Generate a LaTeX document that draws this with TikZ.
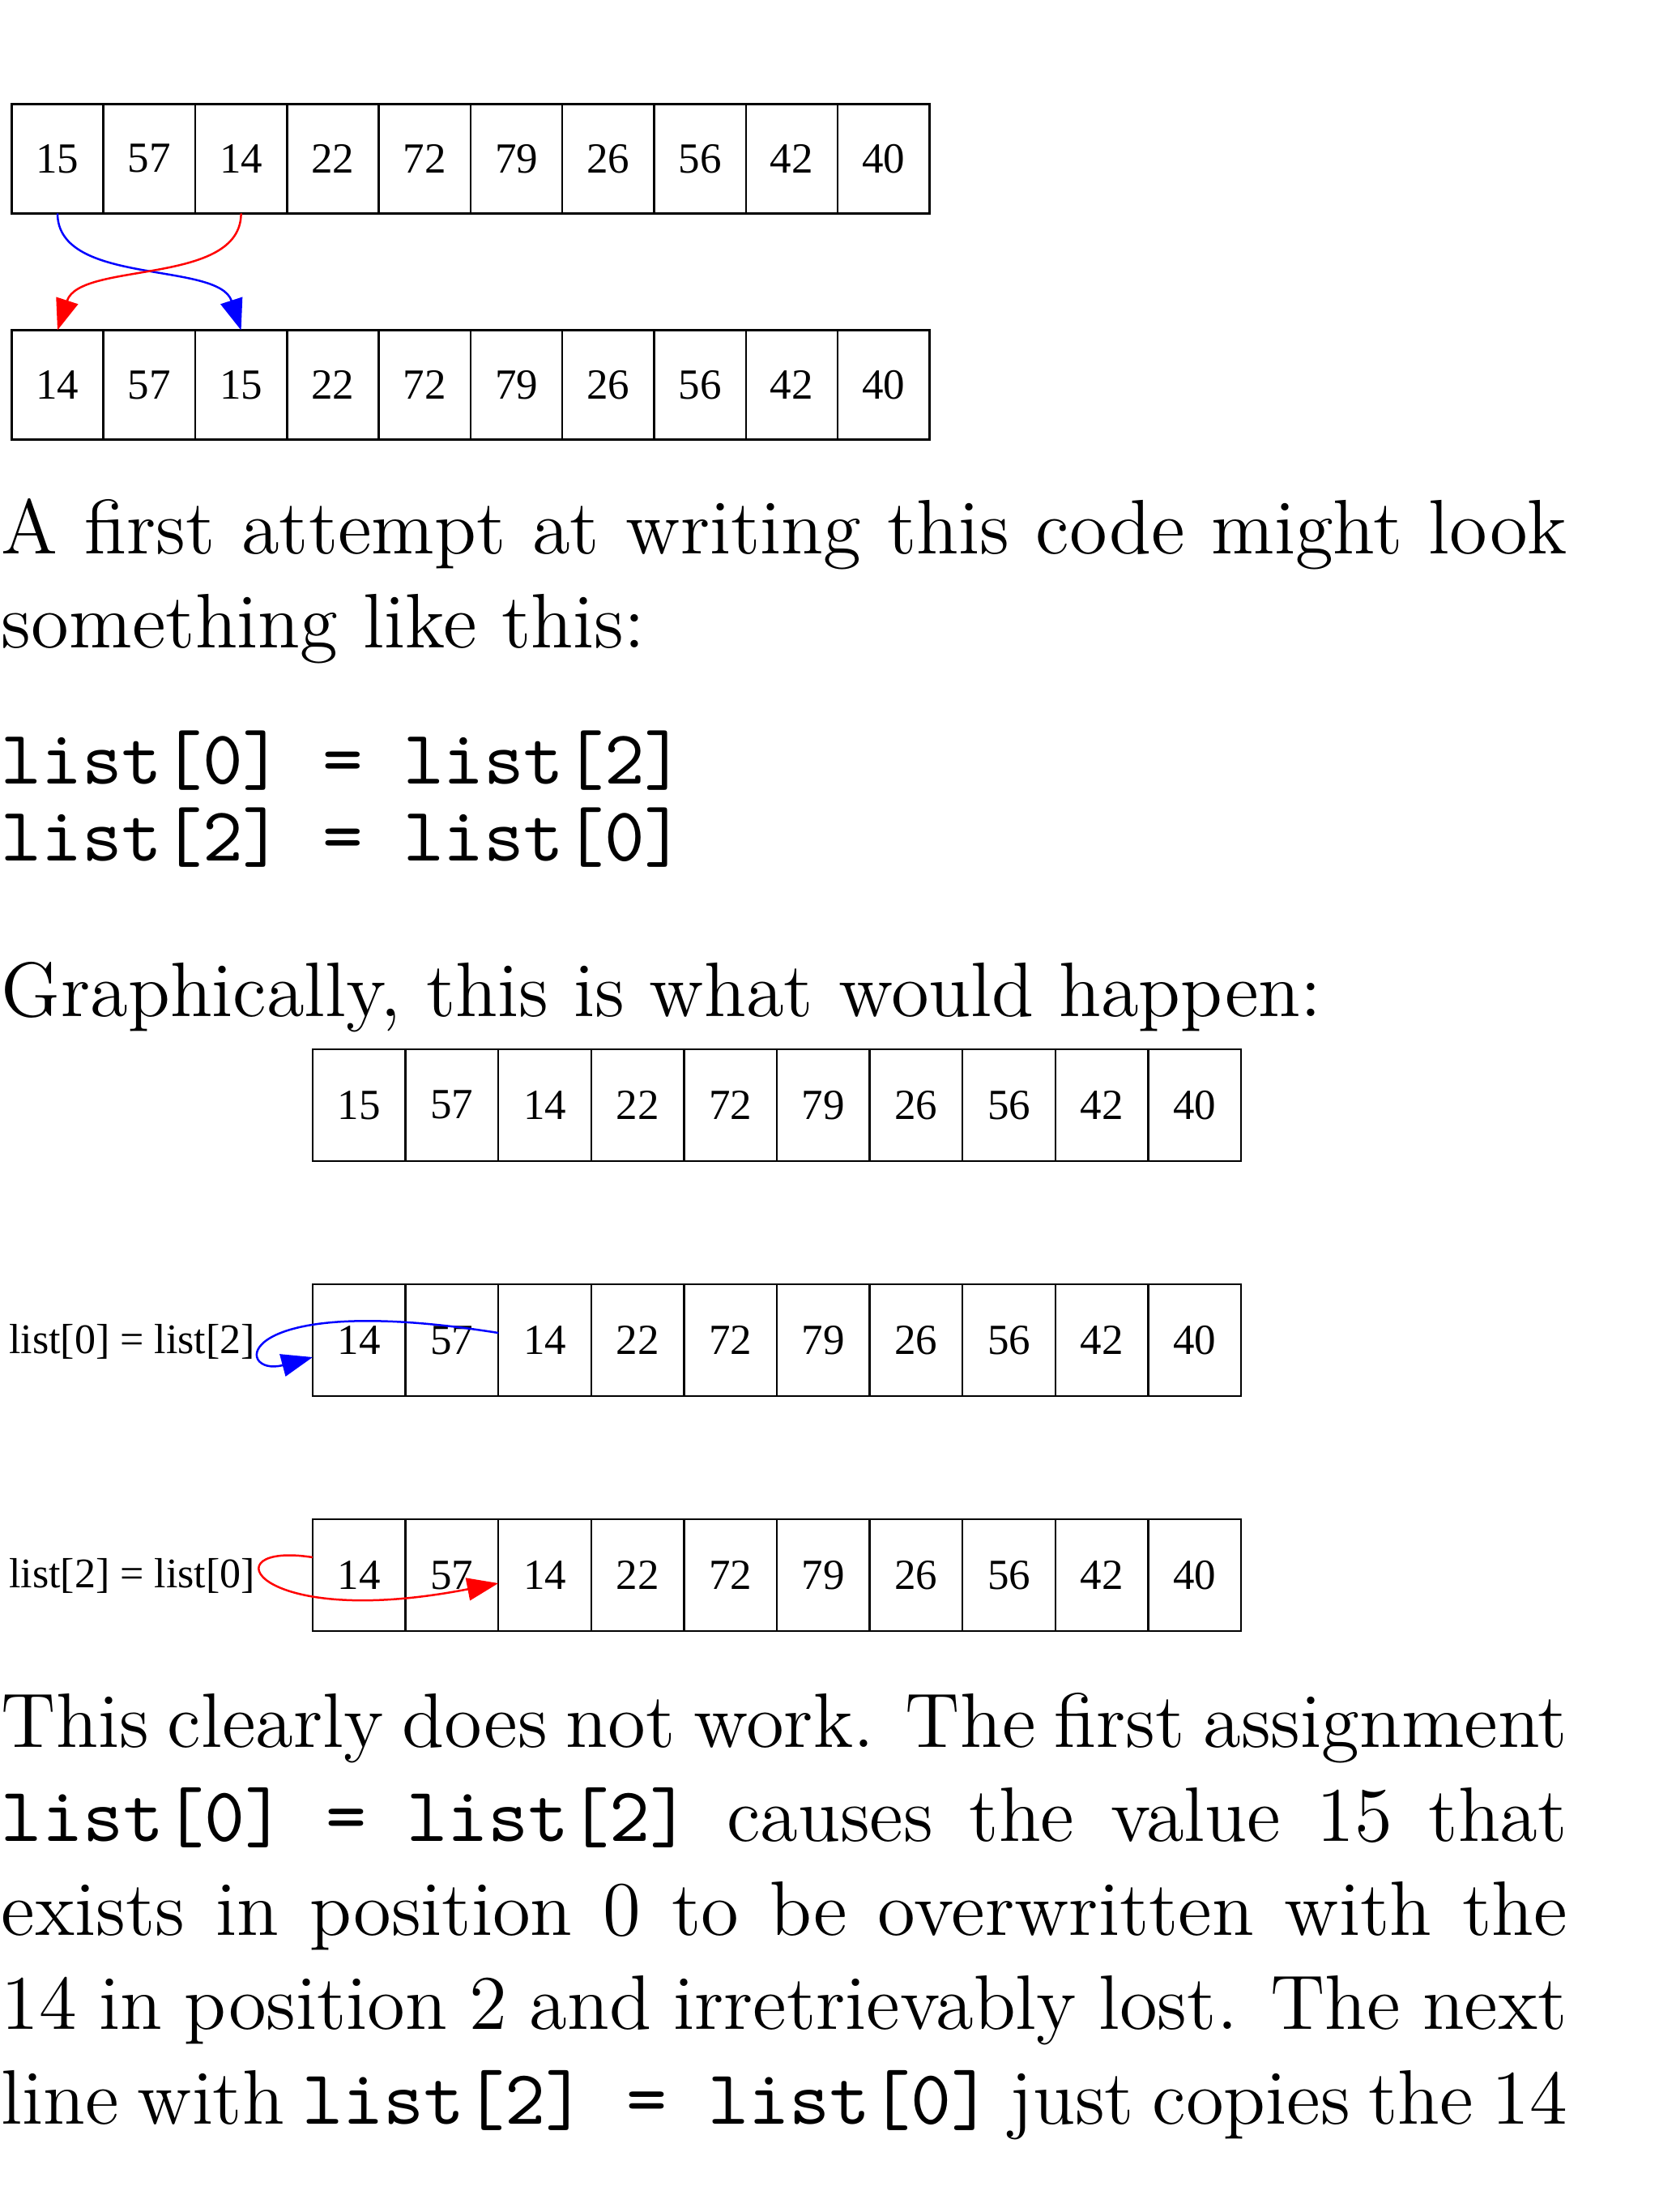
\documentclass[tikz,border=0pt]{standalone}
\usepackage{fontspec}
\newfontfamily\prosefont{lmroman12-regular.otf}
\newfontfamily\codefont{lmmono10-regular.otf}[WordSpace={1,0,0}]
\newfontfamily\cellfont{Liberation Serif}
\usetikzlibrary{arrows.meta}

\begin{document}
\begin{tikzpicture}[x=1pt,y=1pt]

      \useasboundingbox (0,0) rectangle (204.8,-273);

      \begin{scope}[every node/.style={draw,line width=.25pt,inner sep=0pt,outer sep=0pt,
          minimum width=11.33pt,minimum height=13.5pt,font=\cellfont\fontsize{5.3}{6}\selectfont}]
        \node (a0) at (7.10,-19.58) {15};
        \node (a1) at (18.43,-19.58) {57};
        \node (a2) at (29.76,-19.58) {14};
        \node (a3) at (41.09,-19.58) {22};
        \node (a4) at (52.42,-19.58) {72};
        \node (a5) at (63.75,-19.58) {79};
        \node (a6) at (75.08,-19.58) {26};
        \node (a7) at (86.41,-19.58) {56};
        \node (a8) at (97.74,-19.58) {42};
        \node (a9) at (109.07,-19.58) {40};

        \node (b0) at (7.10,-47.5) {14};
        \node (b1) at (18.43,-47.5) {57};
        \node (b2) at (29.76,-47.5) {15};
        \node (b3) at (41.09,-47.5) {22};
        \node (b4) at (52.42,-47.5) {72};
        \node (b5) at (63.75,-47.5) {79};
        \node (b6) at (75.08,-47.5) {26};
        \node (b7) at (86.41,-47.5) {56};
        \node (b8) at (97.74,-47.5) {42};
        \node (b9) at (109.07,-47.5) {40};
      \end{scope}

      \begin{scope}[every node/.style={draw,line width=.25pt,inner sep=0pt,outer sep=0pt,
          minimum width=11.46pt,minimum height=13.8pt,font=\cellfont\fontsize{5.3}{6}\selectfont}]
        \node (c0) at (44.33,-136.38) {15};
        \node (c1) at (55.79,-136.38) {57};
        \node (c2) at (67.25,-136.38) {14};
        \node (c3) at (78.71,-136.38) {22};
        \node (c4) at (90.17,-136.38) {72};
        \node (c5) at (101.63,-136.38) {79};
        \node (c6) at (113.09,-136.38) {26};
        \node (c7) at (124.55,-136.38) {56};
        \node (c8) at (136.01,-136.38) {42};
        \node (c9) at (147.47,-136.38) {40};

        \node (d0) at (44.33,-165.4) {14};
        \node (d1) at (55.79,-165.4) {57};
        \node (d2) at (67.25,-165.4) {14};
        \node (d3) at (78.71,-165.4) {22};
        \node (d4) at (90.17,-165.4) {72};
        \node (d5) at (101.63,-165.4) {79};
        \node (d6) at (113.09,-165.4) {26};
        \node (d7) at (124.55,-165.4) {56};
        \node (d8) at (136.01,-165.4) {42};
        \node (d9) at (147.47,-165.4) {40};

        \node (e0) at (44.33,-194.4) {14};
        \node (e1) at (55.79,-194.4) {57};
        \node (e2) at (67.25,-194.4) {14};
        \node (e3) at (78.71,-194.4) {22};
        \node (e4) at (90.17,-194.4) {72};
        \node (e5) at (101.63,-194.4) {79};
        \node (e6) at (113.09,-194.4) {26};
        \node (e7) at (124.55,-194.4) {56};
        \node (e8) at (136.01,-194.4) {42};
        \node (e9) at (147.47,-194.4) {40};
      \end{scope}

      \begin{scope}[every node/.style={anchor=base east,inner sep=0pt,font=\cellfont\fontsize{5.2}{6}\selectfont}]
        \node (lab1) at (31.7,-167.0) {list[0] = list[2]};
        \node (lab2) at (31.7,-195.9) {list[2] = list[0]};
      \end{scope}

      \begin{scope}[every node/.style={anchor=base west,inner sep=0pt,font=\prosefont\fontsize{9.53}{11.63}\selectfont}]
        \node[text width=193.3pt,align=justify] (para1) at (0,-68.3)
          {A first attempt at writing this code might look\linebreak something like this:};
        \node[font=\codefont\fontsize{9.45}{9.5}\selectfont] (code1) at (0,-96.7) {list[0] = list[2]};
        \node[font=\codefont\fontsize{9.45}{9.5}\selectfont] (code2) at (0,-106.2) {list[2] = list[0]};
        \node (graph) at (0,-125.4) {Graphically, this is what would happen:};
        \node[text width=193.3pt,align=justify] (para2) at (0,-215.6)
          {\parfillskip=0pt \hyphenpenalty=10000
          This clearly does not work. The first assignment\linebreak
          {\codefont list[0] = list[2]} causes the value 15 that\linebreak
          exists in position 0 to be overwritten with the\linebreak
          14 in position 2 and irretrievably lost. The next\linebreak
          line with {\codefont list[2] = list[0]} just copies the 14};
      \end{scope}


      \begin{scope}[every edge/.style={draw,line width=.25pt,-{Triangle[length=3.85pt,width=2.8pt]}}]
        \path (a0.south) edge[blue,out=-90,in=108,out distance=9pt,in distance=9pt] (b2.north);
        \path (a2.south) edge[red,out=-90,in=72,out distance=9pt,in distance=9pt] (b0.north);
        \path ([yshift=.9pt]d2.west) edge[blue,out=171,in=195,out distance=34pt,in distance=10pt] ([yshift=-2.1pt]d0.west);
        \path ([yshift=2.2pt]e0.west) edge[red,out=171,in=191,out distance=13pt,in distance=31pt] ([yshift=-1pt]e2.west);
      \end{scope}

    \end{tikzpicture}
\end{document}
